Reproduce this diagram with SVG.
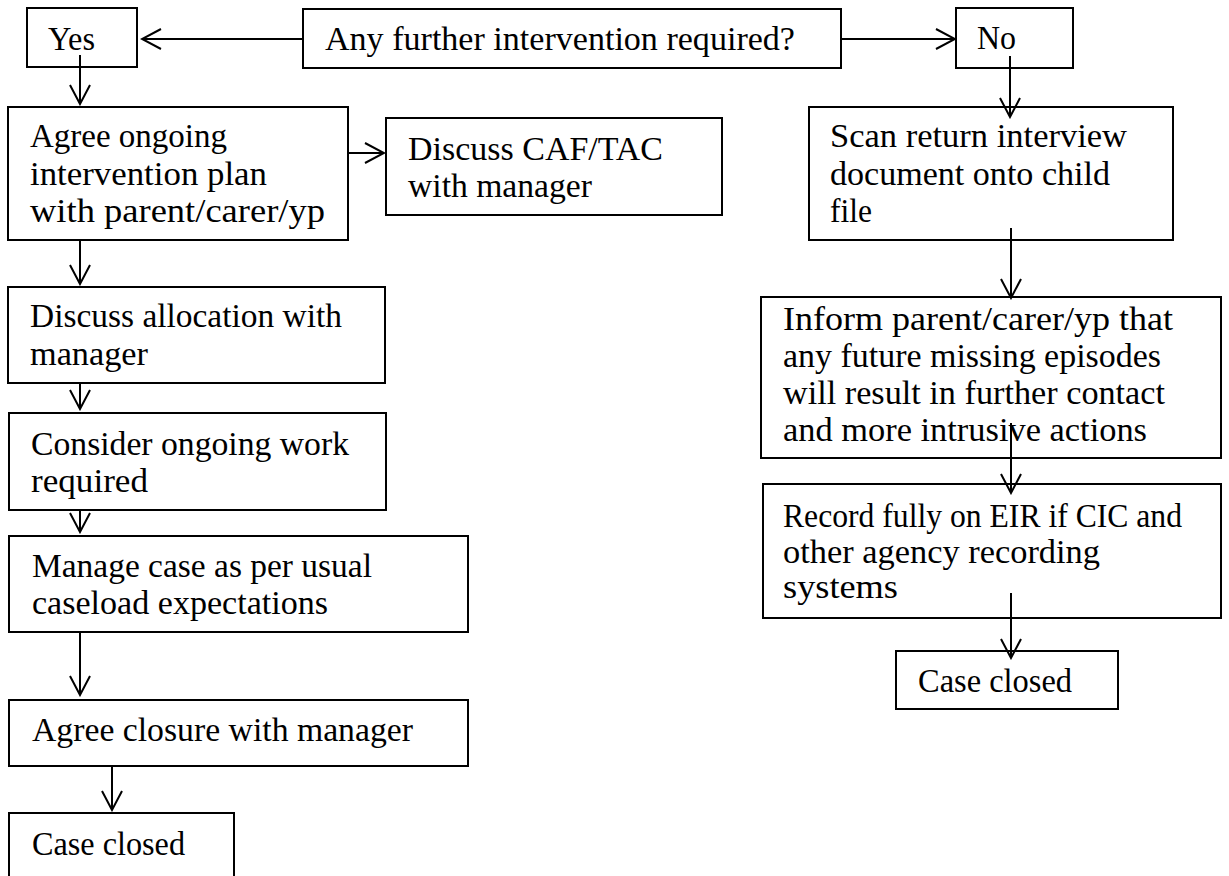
<svg xmlns="http://www.w3.org/2000/svg" width="1229" height="876" viewBox="0 0 1229 876">
<defs>
<style>
.box{fill:#fff;stroke:#000;stroke-width:2}
.t{font-family:"Liberation Serif","Times New Roman",serif;font-size:33px;fill:#000}
.c{fill:none;stroke:#000;stroke-width:2}
</style>
<marker id="arr" viewBox="-22 -12 24 24" markerWidth="24" markerHeight="24" refX="0" refY="0" orient="auto" markerUnits="userSpaceOnUse">
<path d="M-19,-10 L0,0 L-19,10" fill="none" stroke="#000" stroke-width="2"/>
</marker>
</defs>
<rect width="1229" height="876" fill="#fff"/>

<g id="n-yes"><rect class="box" x="27" y="8" width="110" height="59"/><text class="t" x="48" y="50" textLength="47" lengthAdjust="spacingAndGlyphs">Yes</text></g>
<g id="n-question"><rect class="box" x="303" y="9" width="538" height="59"/><text class="t" x="325" y="50" textLength="470" lengthAdjust="spacingAndGlyphs">Any further intervention required?</text></g>
<g id="n-no"><rect class="box" x="956" y="8" width="117" height="60"/><text class="t" x="977" y="49" textLength="39" lengthAdjust="spacingAndGlyphs">No</text></g>

<g id="n-agree-plan"><rect class="box" x="8" y="107" width="340" height="133"/>
<text class="t" x="30" y="147" textLength="197" lengthAdjust="spacingAndGlyphs">Agree ongoing</text>
<text class="t" x="30" y="185" textLength="237" lengthAdjust="spacingAndGlyphs">intervention plan</text>
<text class="t" x="30" y="222" textLength="295" lengthAdjust="spacingAndGlyphs">with parent/carer/yp</text></g>

<g id="n-caf"><rect class="box" x="386" y="118" width="336" height="97"/>
<text class="t" x="408" y="160" textLength="255" lengthAdjust="spacingAndGlyphs">Discuss CAF/TAC</text>
<text class="t" x="408" y="197" textLength="184" lengthAdjust="spacingAndGlyphs">with manager</text></g>

<g id="n-allocation"><rect class="box" x="8" y="287" width="377" height="96"/>
<text class="t" x="30" y="327" textLength="312" lengthAdjust="spacingAndGlyphs">Discuss allocation with</text>
<text class="t" x="30" y="365" textLength="118" lengthAdjust="spacingAndGlyphs">manager</text></g>

<g id="n-consider"><rect class="box" x="9" y="413" width="377" height="97"/>
<text class="t" x="31" y="455" textLength="318" lengthAdjust="spacingAndGlyphs">Consider ongoing work</text>
<text class="t" x="31" y="492" textLength="117" lengthAdjust="spacingAndGlyphs">required</text></g>

<g id="n-manage"><rect class="box" x="9" y="536" width="459" height="96"/>
<text class="t" x="32" y="577" textLength="340" lengthAdjust="spacingAndGlyphs">Manage case as per usual</text>
<text class="t" x="32" y="614" textLength="296" lengthAdjust="spacingAndGlyphs">caseload expectations</text></g>

<g id="n-closure"><rect class="box" x="9" y="700" width="459" height="66"/>
<text class="t" x="32" y="741" textLength="381" lengthAdjust="spacingAndGlyphs">Agree closure with manager</text></g>

<g id="n-closed-left"><rect class="box" x="9" y="813" width="225" height="80"/>
<text class="t" x="32" y="855" textLength="153" lengthAdjust="spacingAndGlyphs">Case closed</text></g>

<g id="n-scan"><rect class="box" x="809" y="107" width="364" height="133"/>
<text class="t" x="830" y="147" textLength="297" lengthAdjust="spacingAndGlyphs">Scan return interview</text>
<text class="t" x="830" y="185" textLength="280" lengthAdjust="spacingAndGlyphs">document onto child</text>
<text class="t" x="830" y="222" textLength="42" lengthAdjust="spacingAndGlyphs">file</text></g>

<g id="n-inform"><rect class="box" x="761" y="297" width="460" height="161"/>
<text class="t" x="783" y="330" textLength="390" lengthAdjust="spacingAndGlyphs">Inform parent/carer/yp that</text>
<text class="t" x="783" y="367" textLength="378" lengthAdjust="spacingAndGlyphs">any future missing episodes</text>
<text class="t" x="783" y="404" textLength="382" lengthAdjust="spacingAndGlyphs">will result in further contact</text>
<text class="t" x="783" y="441" textLength="364" lengthAdjust="spacingAndGlyphs">and more intrusive actions</text></g>

<g id="n-record"><rect class="box" x="763" y="484" width="458" height="134"/>
<text class="t" x="783" y="527" textLength="399" lengthAdjust="spacingAndGlyphs">Record fully on EIR if CIC and</text>
<text class="t" x="783" y="563" textLength="317" lengthAdjust="spacingAndGlyphs">other agency recording</text>
<text class="t" x="783" y="598" textLength="115" lengthAdjust="spacingAndGlyphs">systems</text></g>

<g id="n-closed-right"><rect class="box" x="896" y="651" width="222" height="58"/>
<text class="t" x="918" y="692" textLength="154" lengthAdjust="spacingAndGlyphs">Case closed</text></g>

<g id="connectors">
<line class="c" x1="303" y1="39" x2="142" y2="39" marker-end="url(#arr)"/>
<line class="c" x1="841" y1="39" x2="955" y2="39" marker-end="url(#arr)"/>
<line class="c" x1="80" y1="55" x2="80" y2="104" marker-end="url(#arr)"/>
<line class="c" x1="348" y1="153" x2="384" y2="153" marker-end="url(#arr)"/>
<line class="c" x1="80" y1="241" x2="80" y2="284" marker-end="url(#arr)"/>
<line class="c" x1="80" y1="383" x2="80" y2="409" marker-end="url(#arr)"/>
<line class="c" x1="80" y1="510" x2="80" y2="532" marker-end="url(#arr)"/>
<line class="c" x1="80" y1="632" x2="80" y2="695" marker-end="url(#arr)"/>
<line class="c" x1="112" y1="766" x2="112" y2="810" marker-end="url(#arr)"/>
<line class="c" x1="1010" y1="56" x2="1010" y2="117" marker-end="url(#arr)"/>
<line class="c" x1="1011" y1="228" x2="1011" y2="298" marker-end="url(#arr)"/>
<line class="c" x1="1011" y1="423" x2="1011" y2="493" marker-end="url(#arr)"/>
<line class="c" x1="1011" y1="593" x2="1011" y2="658" marker-end="url(#arr)"/>
</g>
</svg>
